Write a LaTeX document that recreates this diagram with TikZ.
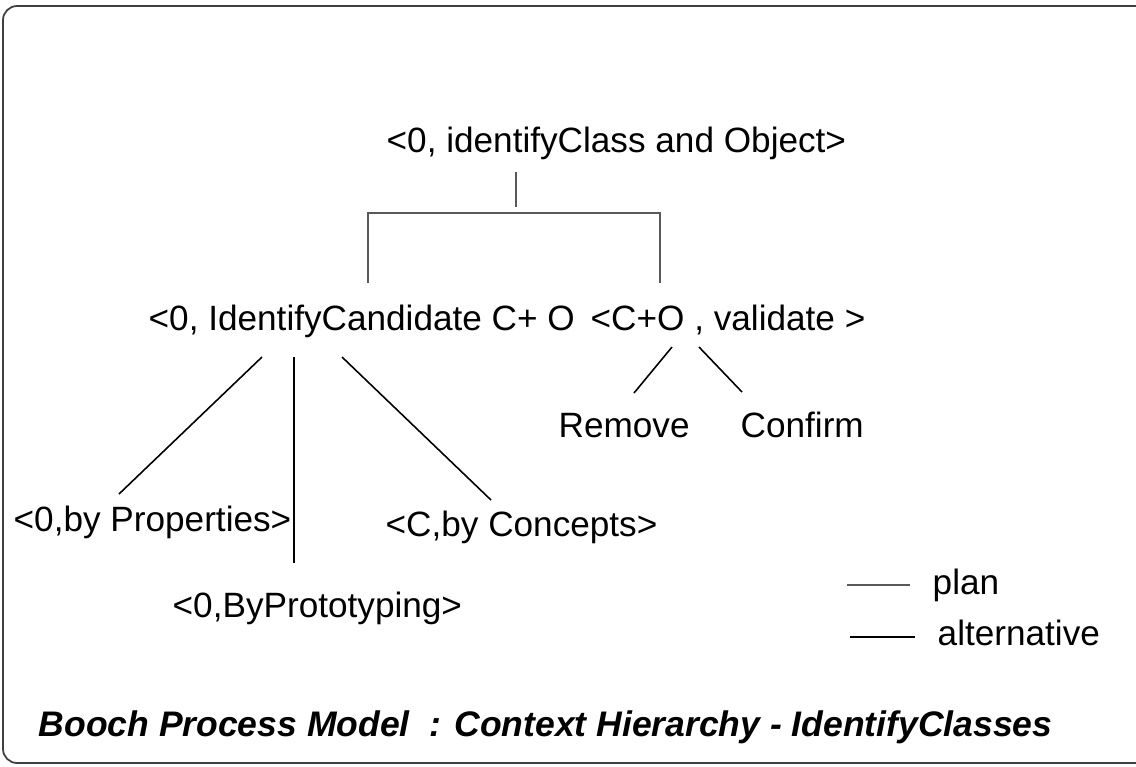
\documentclass[tikz,border=0pt]{standalone}
\usepackage{fontspec}
\setmainfont{Liberation Sans}
\begin{document}
\begin{tikzpicture}[x=0.01cm,y=-0.01cm,
  lbl/.style={inner sep=0pt,anchor=base west,font=\fontsize{10}{12}\selectfont},
  planline/.style={draw=black!65,line width=0.4pt},
  altline/.style={draw=black,line width=0.45pt}]
\useasboundingbox (0,0) rectangle (1136,766);
\clip (0,0) rectangle (1136,766);
\draw[black!75,line width=0.5pt,rounded corners=4pt] (3,6) rectangle (1200,763);
% nodes
\node[lbl] (root) at (386,152) {<0, identifyClass and Object>};
\node[lbl] (cand) at (148,330) {<0, IdentifyCandidate C+ O};
\node[lbl] (val) at (590,330) {<C+O , validate\ >};
\node[lbl] (rem) at (558,437) {Remove};
\node[lbl] (conf) at (740,437) {Confirm};
\node[lbl] (prop) at (13,531) {<0,by Properties>};
\node[lbl] (conc) at (385,536) {<C,by Concepts>};
\node[lbl] (proto) at (172,617) {<0,ByPrototyping>};
\node[lbl] (plan) at (932,594) {plan};
\node[lbl] (alt) at (937,645) {alternative};
\node[inner sep=0pt,anchor=base west,font=\fontsize{10.1}{12}\selectfont\bfseries\itshape] (title) at (38,736) {Booch Process Model\ \ : Context Hierarchy - IdentifyClasses};
% coordinates
\coordinate (r1) at (516,172); \coordinate (r2) at (516,207);
\coordinate (bl) at (368,213); \coordinate (br) at (660,213);
\coordinate (bl2) at (368,283); \coordinate (br2) at (660,283);
\coordinate (c1) at (262,357); \coordinate (p1) at (119,494);
\coordinate (c2) at (294,357); \coordinate (q1) at (294,563);
\coordinate (c3) at (342,357); \coordinate (k1) at (491,500);
\coordinate (v1) at (672,347); \coordinate (m1) at (634,393);
\coordinate (v2) at (699,347); \coordinate (f1) at (742,392);
\coordinate (lp1) at (847,585); \coordinate (lp2) at (910,585);
\coordinate (la1) at (850,637); \coordinate (la2) at (915,637);
% connectors
\draw[planline] (r1) -- (r2);
\draw[planline] (bl2) -- (bl) -- (br) -- (br2);
\draw[altline] (c1) -- (p1);
\draw[altline] (c2) -- (q1);
\draw[altline] (c3) -- (k1);
\draw[altline] (v1) -- (m1);
\draw[altline] (v2) -- (f1);
\draw[planline] (lp1) -- (lp2);
\draw[altline] (la1) -- (la2);
\end{tikzpicture}
\end{document}
